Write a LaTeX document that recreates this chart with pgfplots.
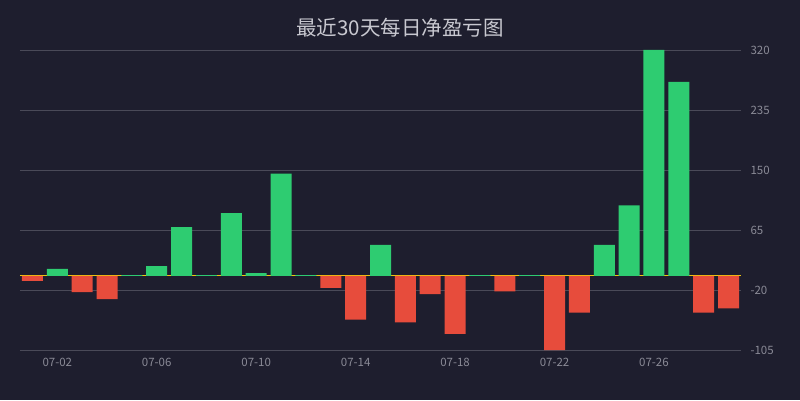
\documentclass[border=0pt]{standalone}
\usepackage{pgfplots}
\pgfplotsset{compat=1.18}
\usepackage{fontspec}
\setmainfont{Noto Sans CJK SC}

\definecolor{bg}{HTML}{1E1E2E}
\definecolor{gridc}{HTML}{4A4A58}
\definecolor{up}{HTML}{2ECC71}
\definecolor{down}{HTML}{E74C3C}
\definecolor{zeroline}{HTML}{F1C40F}
\definecolor{tickc}{HTML}{8A8A96}
\definecolor{titlec}{HTML}{C8C8D0}

\begin{document}
\begin{tikzpicture}[x=1pt,y=1pt]
\fill[bg] (0,0) rectangle (800,400);
\useasboundingbox (0,0) rectangle (800,400);
\node[text=titlec, font=\fontsize{20.5}{24}\selectfont] at (400,372) {最近30天每日净盈亏图};

\begin{axis}[
    at={(20pt,50pt)}, anchor=south west,
    scale only axis,
    width=721pt, height=300pt,
    xmin=0.5, xmax=29.5,
    ymin=-105, ymax=320,
    ytick={-105,-20,65,150,235,320},
    xtick={2,6,10,14,18,22,26},
    xticklabels={07-02,07-06,07-10,07-14,07-18,07-22,07-26},
    yticklabel pos=right,
    axis line style={draw=none},
    major tick length=0pt,
    ymajorgrids=true,
    grid style={gridc, line width=0.8pt},
    tick label style={text=tickc, font=\fontsize{11.5}{13}\selectfont},
    /pgf/number format/assume math mode=true,
    yticklabel style={anchor=west, xshift=6pt},
    xticklabel style={yshift=-5pt},
    bar width=21pt,
    clip=false,
]
% zero line, behind the bars
\addplot[sharp plot, draw=zeroline, line width=0.9pt, mark=none, forget plot]
    coordinates {(0.5,0) (29.5,0)};
\addplot[ybar, bar shift=0pt, fill=up, draw=none] coordinates {
    (2,10) (6,14) (7,69) (9,89) (10,4) (11,145) (15,44)
    (24,44) (25,100) (26,320) (27,275)
};
\addplot[ybar, bar shift=0pt, fill=down, draw=none] coordinates {
    (1,-7) (3,-23) (4,-33) (13,-17) (14,-62) (16,-66) (17,-26)
    (18,-82) (20,-22) (22,-105) (23,-52) (28,-52) (29,-46)
};
\addplot[ybar, bar shift=0pt, fill=up, draw=up, line width=1pt] coordinates {
    (5,0) (8,0) (12,0) (19,0) (21,0)
};
\end{axis}
\end{tikzpicture}
\end{document}
